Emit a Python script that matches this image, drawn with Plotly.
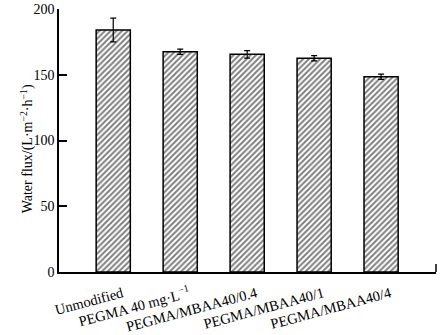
import plotly.graph_objects as go

categories = ["Unmodified", "PEGMA 40 mg·L<sup>−1</sup>", "PEGMA/MBAA40/0.4",
              "PEGMA/MBAA40/1", "PEGMA/MBAA40/4"]
flux = [184, 167.5, 165.5, 162.5, 148.5]
err = [9, 2, 2.8, 2, 2]
yticks = [0, 50, 100, 150, 200]
ytitle = "Water flux/(L·m<sup>−2</sup>·h<sup>−1</sup>)"

fig = go.Figure()
fig.add_trace(go.Bar(
    x=list(range(len(categories))), y=flux,
    width=0.51,
    marker=dict(color="white",
                line=dict(color="black", width=1.5),
                pattern=dict(shape="/", fgcolor="black", bgcolor="white",
                             size=4, solidity=0.5)),
    error_y=dict(type="data", array=err, color="black", thickness=1.2, width=3),
))

font = dict(family="Liberation Serif, Times New Roman, serif", color="black", size=14)
fig.update_layout(
    width=446, height=335,
    margin=dict(l=59, r=10, t=9, b=63),
    paper_bgcolor="white", plot_bgcolor="white",
    font=font, showlegend=False,
    xaxis=dict(range=[-0.81, 4.82], tickmode="array",
               tickvals=list(range(len(categories))), ticktext=categories,
               tickangle=-15, showline=True, linecolor="black", linewidth=1.5,
               ticks="", showgrid=False, zeroline=False, tickfont=dict(size=14.5),
               ticklabelstandoff=6, ticklabelshift=9,
               automargin=False),
    yaxis=dict(range=[0, 200], tickmode="array", tickvals=yticks,
               ticks="inside", ticklen=8, tickwidth=1.5, tickcolor="black",
               showline=True, linecolor="black", linewidth=1.5,
               showgrid=False, zeroline=False, automargin=False,
               tickfont=dict(size=14)),
)
fig.add_annotation(text=ytitle, xref="paper", yref="paper", x=-0.085, y=0.47,
                   textangle=-90, showarrow=False, font=dict(size=14),
                   xanchor="center", yanchor="middle")
# small end tick at right of x axis
fig.add_shape(type="line", xref="paper", yref="paper", x0=1, x1=1, y0=0, y1=0.03,
              line=dict(color="black", width=1.5))
fig.write_html("out.html", config={"displayModeBar": False},
               post_script="document.body.style.margin='0';document.body.style.overflow='hidden';")
